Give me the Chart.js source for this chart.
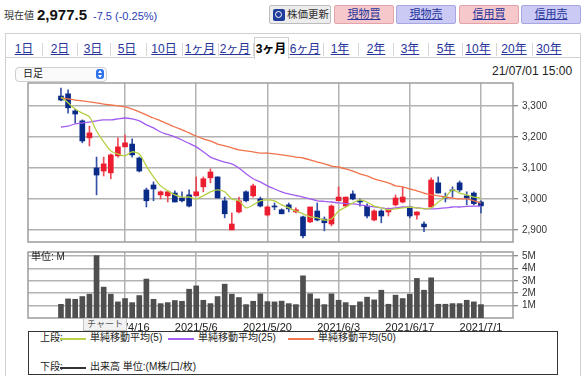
<!DOCTYPE html>
<html>
<head>
<meta charset="utf-8">
<script src="https://cdn.jsdelivr.net/npm/chart.js@4/dist/chart.umd.min.js"></script>
<style>
body { margin: 0; background: #fff; font-family: "Liberation Sans", "Noto Sans CJK JP", sans-serif; color: #333; }
#page { position: relative; width: 586px; height: 376px; overflow: hidden; }
.abs { position: absolute; white-space: nowrap; line-height: 14px; }
.btn { position: absolute; top: 5px; height: 19px; line-height: 17px; font-size: 11px; text-align: center; border: 1px solid; box-sizing: border-box; border-radius: 2px; white-space: nowrap; }
.pink { background: #f7c8cb; border-color: #e3a4a9; }
.lav { background: #cacaf5; border-color: #a7a7e2; }
.btn span { color: #27359a; text-decoration: underline; }
.tab { position: absolute; top: 42px; font-size: 12px; line-height: 14px; color: #27359a; text-decoration: underline; transform: translateX(-50%); white-space: nowrap; }
.sep { position: absolute; top: 43px; width: 1px; height: 13px; background: #d6d6d6; }
canvas { position: absolute; left: 0; top: 0; }
.lg { position: absolute; font-size: 10px; line-height: 12px; white-space: nowrap; color: #222; }
.ln { position: absolute; height: 2px; }
</style>
</head>
<body>
<div id="page">
  <div class="abs" style="left:4px;top:9px;font-size:10px;">現在値</div>
  <div class="abs" style="left:37px;top:6px;font-size:15px;font-weight:bold;color:#111;line-height:17px;">2,977.5</div>
  <div class="abs" style="left:93px;top:9px;font-size:11px;color:#2940b4;">-7.5 (-0.25%)</div>

  <div class="btn" style="left:269px;width:62px;background:#ececec;border-color:#bdbdbd;color:#333;">
    <div style="position:absolute;left:3px;top:3px;width:12px;height:12px;background:#1f3c9a;border-radius:2px;">
      <div style="position:absolute;left:2px;top:2px;width:5px;height:5px;border:1.5px solid #fff;border-radius:50%;"></div>
    </div>
    <span style="position:absolute;left:17px;top:0;font-size:10.5px;color:#333;text-decoration:none;">株価更新</span>
  </div>
  <div class="btn pink" style="left:334px;width:60px;"><span>現物買</span></div>
  <div class="btn lav" style="left:396px;width:60px;"><span>現物売</span></div>
  <div class="btn pink" style="left:459px;width:60px;"><span>信用買</span></div>
  <div class="btn lav" style="left:521px;width:60px;"><span>信用売</span></div>

  <!-- tab row and panel frame -->
  <div style="position:absolute;left:5px;top:33px;width:574px;height:400px;border:1px solid #d0d0d0;"></div>
  <div style="position:absolute;left:5px;top:57px;width:575px;height:1px;background:#d0d0d0;"></div>
  <div style="position:absolute;left:254px;top:37px;width:33px;height:21px;background:#fff;border:1px solid #d0d0d0;border-bottom:none;"></div>
  <div id="tabs"></div>

  <!-- period select -->
  <div style="position:absolute;left:15px;top:67px;width:90px;height:13px;border:1px solid #cfcfcf;border-radius:4px;background:#fafafa;"></div>
  <div class="abs" style="left:23px;top:67px;font-size:10px;color:#222;">日足</div>
  <div style="position:absolute;left:96px;top:69px;width:8px;height:10px;background:#2f73ea;border-radius:3px;">
    <div style="position:absolute;left:2px;top:1px;border-left:2px solid transparent;border-right:2px solid transparent;border-bottom:3px solid #fff;"></div>
    <div style="position:absolute;left:2px;top:6px;border-left:2px solid transparent;border-right:2px solid transparent;border-top:3px solid #fff;"></div>
  </div>
  <div class="abs" style="left:492px;top:64px;font-size:12px;color:#222;">21/07/01 15:00</div>

  <canvas id="price" width="586" height="376"></canvas>
  <canvas id="volume" width="586" height="376"></canvas>

  <div class="abs" style="left:31px;top:250px;font-size:10px;color:#222;">単位: M</div>
  <div style="position:absolute;left:83px;top:318px;width:44px;height:13px;background:#f2f2f2;border:1px solid #c4c4c4;box-sizing:border-box;font-size:9px;line-height:11px;text-align:center;color:#555;">チャート</div>

  <!-- legend -->
  <div style="position:absolute;left:28px;top:331px;width:530px;height:44px;border:1px solid #333;box-sizing:border-box;background:#fff;"></div>
  <div class="lg" style="left:40px;top:332px;">上段:</div>
  <div class="ln" style="left:60px;top:338px;width:26px;background:#b9d24a;"></div>
  <div class="lg" style="left:90px;top:332px;">単純移動平均(5)</div>
  <div class="ln" style="left:168px;top:338px;width:26px;background:#a35ff0;"></div>
  <div class="lg" style="left:198px;top:332px;">単純移動平均(25)</div>
  <div class="ln" style="left:288px;top:338px;width:26px;background:#f0774f;"></div>
  <div class="lg" style="left:318px;top:332px;">単純移動平均(50)</div>
  <div class="lg" style="left:40px;top:361px;">下段:</div>
  <div class="ln" style="left:60px;top:367px;width:26px;background:#333;"></div>
  <div class="lg" style="left:90px;top:361px;">出来高 単位:(M株/口/枚)</div>
</div>

<script>
// daily candles, 2021/4/5 .. 2021/7/1
const opens  = [3332,3339,3284,3252,3197,3100,3090,3084,3139,3168,
                3177,3132,3029,3045,3013,3010,3019,3003,3013,3010,
                3039,3068,3071,2994,2900,2958,3023,3010,3000,2948,
                2977,2965,2981,2958,2942,2926,2961,2935,2919,2994,
                2977,3016,2994,2977,2932,2961,2958,2981,2990,2974,
                2948,2919,2974,3052,3006,3029,3052,3010,3019,2990];
const highs  = [3358,3352,3290,3255,3235,3135,3135,3145,3197,3206,
                3194,3135,3035,3055,3026,3026,3026,3023,3029,3071,
                3071,3097,3071,3006,2955,3006,3026,3048,3006,2977,
                2987,2968,2987,2971,2945,2974,2987,2942,2981,3039,
                3006,3026,3000,2984,2965,2965,2971,3013,3039,2977,
                2958,2926,3068,3071,3019,3039,3058,3023,3023,2994];
const lows   = [3316,3277,3245,3181,3171,3013,3074,3065,3135,3168,
                3135,3087,2974,2994,3000,2990,2990,2990,2974,3010,
                3023,3052,3003,2939,2900,2955,2990,3006,2974,2945,
                2965,2952,2958,2955,2874,2923,2929,2897,2913,2994,
                2974,2997,2977,2939,2929,2923,2945,2977,2987,2939,
                2935,2894,2974,3019,2990,3006,3023,2981,2981,2955];
const closes = [3319,3294,3274,3187,3213,3077,3113,3142,3168,3181,
                3142,3090,2994,3032,3023,3023,2990,2994,2977,3023,
                3065,3087,3003,2952,2919,2994,2994,3042,2977,2974,
                2974,2952,2968,2965,2881,2974,2932,2923,2977,3006,
                3006,3000,2990,2945,2961,2945,2965,3003,3006,2945,
                2958,2910,3061,3019,3003,3026,3029,3003,2985,2977.5];
const volumes = [1.10,1.54,1.51,1.73,1.92,5.03,2.49,1.92,1.30,1.57,
                 1.24,1.81,3.14,1.51,1.16,1.24,1.41,1.35,2.32,2.59,
                 1.43,1.16,1.73,2.73,1.92,1.65,1.08,1.35,1.95,1.32,
                 1.30,1.36,1.16,1.08,3.40,1.95,1.54,1.08,1.95,1.43,
                 1.24,1.00,1.30,1.68,1.46,2.24,1.11,1.84,1.57,1.92,
                 3.19,2.24,3.24,1.11,1.11,1.16,1.16,1.43,1.30,1.08];
const ma5  = [3329,3310,3290,3277,3265,3219,3184,3155,3145,3139,
              3152,3145,3106,3071,3042,3026,3013,3006,3006,3000,
              3010,3023,3029,3023,3000,2994,2971,2981,2994,2997,
              2994,2981,2971,2961,2952,2942,2939,2932,2935,2961,
              2974,2987,2997,2990,2977,2971,2965,2968,2971,2974,
              2971,2968,2971,2990,3006,3029,3019,3013,3006,3003];
const ma25 = [3232,3235,3242,3245,3248,3252,3255,3255,3258,3261,
              3258,3252,3239,3229,3216,3208,3200,3190,3179,3168,
              3152,3135,3126,3119,3113,3100,3081,3065,3055,3042,
              3032,3023,3016,3011,3006,3000,2994,2992,2990,2987,
              2985,2984,2981,2977,2974,2971,2968,2971,2974,2974,
              2971,2969,2968,2969,2971,2974,2974,2976,2977,2977];
const ma50 = [3326,3323,3319,3316,3313,3310,3306,3303,3300,3297,
              3290,3281,3271,3261,3252,3242,3232,3223,3213,3203,
              3194,3187,3177,3171,3165,3158,3155,3152,3148,3148,
              3145,3142,3139,3135,3132,3126,3119,3113,3106,3103,
              3097,3090,3081,3074,3065,3058,3052,3042,3039,3032,
              3026,3019,3013,3010,3006,3003,3000,3000,2994,2987];

const priceTicks = [2900, 3000, 3100, 3200, 3300];
const volumeTicks = [1, 2, 3, 4, 5];
const dateTickIdx = [9, 19, 29, 39, 49, 59];
const dateTickLabels = ['2021/4/16', '2021/5/6', '2021/5/20', '2021/6/3', '2021/6/17', '2021/7/1'];

const tabNames = ['1日','2日','3日','5日','10日','1ヶ月','2ヶ月','3ヶ月','6ヶ月','1年','2年','3年','5年','10年','20年','30年'];
const tabX = [24,60,93,127,164,200,235,271,305,340,376,410,446,478,514,549];

// tabs
const tabsEl = document.getElementById('tabs');
tabNames.forEach((name, i) => {
  const t = document.createElement('div');
  t.className = 'tab';
  t.style.left = tabX[i] + 'px';
  t.textContent = name;
  if (name === '3ヶ月') {
    t.style.color = '#000';
    t.style.fontWeight = 'bold';
    t.style.textDecoration = 'none';
  }
  tabsEl.appendChild(t);
  if (i < tabNames.length - 1) {
    const s = document.createElement('div');
    s.className = 'sep';
    s.style.left = Math.round((tabX[i] + tabX[i + 1]) / 2) + 'px';
    tabsEl.appendChild(s);
  }
});

Chart.defaults.font.family = '"Liberation Sans", Arial, sans-serif';
Chart.defaults.color = '#333';

const UP = '#ec1d2f', DOWN = '#0b2b88';
const UP_WICK = '#ef4a58', DOWN_WICK = '#3552a6';
const gridColor = '#b2b2b2';
const xMin = -4.63, xMax = 63.5;

// box around the plot area
const frame = {
  id: 'frame',
  beforeDatasetsDraw(chart) {
    const a = chart.chartArea, ctx = chart.ctx;
    ctx.save();
    ctx.strokeStyle = '#9c9c9c';
    ctx.lineWidth = 1.5;
    ctx.strokeRect(a.left, a.top, a.right - a.left, a.bottom - a.top);
    ctx.restore();
  }
};

function dateAxis(showLabels) {
  return {
    type: 'linear', min: xMin, max: xMax, offset: false,
    grid: { offset: false, color: gridColor, lineWidth: 1.5, drawTicks: false },
    border: { display: false },
    afterBuildTicks: s => { s.ticks = dateTickIdx.map(v => ({ value: v })); },
    ticks: {
      display: showLabels, padding: 3, maxRotation: 0, autoSkip: false,
      font: { size: 11 }, color: '#222',
      callback: (v, i) => dateTickLabels[i]
    },
    afterFit: s => { s.height = showLabels ? 20 : 0; }
  };
}

function valueAxis(min, max, ticks, fmt) {
  return {
    position: 'right', min: min, max: max,
    afterBuildTicks: s => { s.ticks = ticks.map(v => ({ value: v })); },
    grid: { color: gridColor, lineWidth: 1.5, tickLength: 5, tickColor: '#666', tickWidth: 1 },
    border: { display: false },
    ticks: { padding: 4, font: { size: 10 }, color: '#333', callback: fmt },
    afterFit: s => { s.width = 73; }
  };
}

const pts = arr => arr.map((v, i) => ({ x: i, y: v }));
const candleColors = (up, down) => closes.map((c, i) => c >= opens[i] ? up : down);

function maLine(label, data, color) {
  return {
    type: 'line', label: label, data: pts(data),
    borderColor: color, borderWidth: 1.3, pointRadius: 0, tension: 0.25, order: 1
  };
}

new Chart(document.getElementById('price'), {
  type: 'bar',
  data: {
    datasets: [
      maLine('単純移動平均(5)', ma5, '#b6d043'),
      maLine('単純移動平均(25)', ma25, '#a25cf0'),
      maLine('単純移動平均(50)', ma50, '#f0734c'),
      {
        label: 'wick', grouped: false, order: 3, barThickness: 1,
        data: lows.map((l, i) => ({ x: i, y: [l, highs[i]] })),
        backgroundColor: candleColors(UP_WICK, DOWN_WICK)
      },
      {
        label: 'body', grouped: false, order: 2, barThickness: 5, minBarLength: 1,
        data: opens.map((o, i) => ({ x: i, y: [o, closes[i]] })),
        backgroundColor: candleColors(UP, DOWN)
      }
    ]
  },
  options: {
    responsive: false, animation: false,
    layout: { padding: { left: 28, top: 83, bottom: 134, right: 0 } },
    plugins: { legend: { display: false }, tooltip: { enabled: false } },
    scales: {
      x: dateAxis(false),
      y: valueAxis(2861, 3374, priceTicks, v => v.toLocaleString('en-US'))
    }
  },
  plugins: [frame]
});

new Chart(document.getElementById('volume'), {
  type: 'bar',
  data: {
    datasets: [{
      label: '出来高', grouped: false, barThickness: 5,
      data: pts(volumes), backgroundColor: '#4f4f4f'
    }]
  },
  options: {
    responsive: false, animation: false,
    layout: { padding: { left: 28, top: 252, bottom: 38, right: 0 } },
    plugins: { legend: { display: false }, tooltip: { enabled: false } },
    scales: {
      x: dateAxis(true),
      y: valueAxis(0, 5.32, volumeTicks, v => v + 'M')
    }
  },
  plugins: [frame]
});
</script>
</body>
</html>
